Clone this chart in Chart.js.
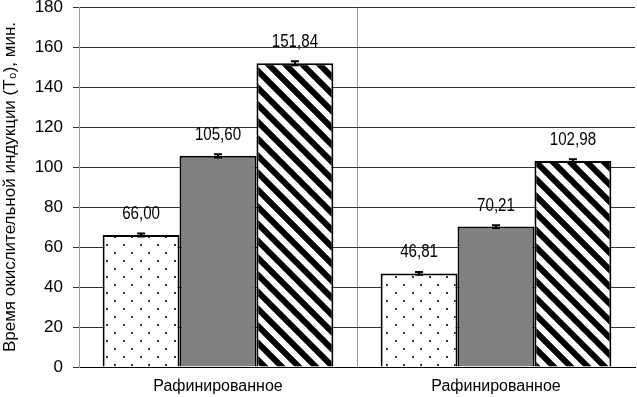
<!DOCTYPE html>
<html>
<head>
<meta charset="utf-8">
<script src="https://cdn.jsdelivr.net/npm/chart.js@4.4.0/dist/chart.umd.min.js"></script>
<style>
  html, body { margin: 0; padding: 0; background: #fff; }
  #wrap { width: 637px; height: 397px; }
</style>
</head>
<body>
<div id="wrap"><canvas id="myChart"></canvas></div>
<script>
// данные графика
const categories = ['Рафинированное', 'Рафинированное'];
const seriesDots = [66.00, 46.81];
const seriesGray = [105.60, 70.21];
const seriesStripes = [151.84, 102.98];
const errDots = [0.8, 0.7];
const errGray = [0.8, 0.7];
const errStripes = [1.0, 0.9];
const yTicks = [0, 20, 40, 60, 80, 100, 120, 140, 160, 180];

const font = "'Liberation Sans', Arial, sans-serif";

// узоры заливки
function dotPattern() {
  const c = document.createElement('canvas');
  c.width = 17; c.height = 16;
  const g = c.getContext('2d');
  g.fillStyle = '#fff';
  g.fillRect(0, 0, 17, 16);
  g.fillStyle = '#333';
  g.fillRect(4, 4, 2, 2);
  g.fillRect(12, 12, 2, 2);
  return g.createPattern(c, 'repeat');
}

function stripePattern() {
  const s = 17;
  const c = document.createElement('canvas');
  c.width = s; c.height = s;
  const g = c.getContext('2d');
  g.fillStyle = '#fff';
  g.fillRect(0, 0, s, s);
  g.strokeStyle = '#000';
  g.lineWidth = 6;
  g.beginPath();
  g.moveTo(-s, 0); g.lineTo(s, 2 * s);
  g.moveTo(0, 0); g.lineTo(s, s);
  g.moveTo(0, -s); g.lineTo(2 * s, s);
  g.stroke();
  return g.createPattern(c, 'repeat');
}

// планки погрешностей и подписи значений
const barExtras = {
  id: 'barExtras',
  afterDatasetsDraw(chart) {
    const g = chart.ctx;
    const y = chart.scales.y;
    chart.data.datasets.forEach((ds, i) => {
      const meta = chart.getDatasetMeta(i);
      meta.data.forEach((bar, j) => {
        const v = ds.data[j];
        const e = ds.errors[j];
        const top = y.getPixelForValue(v + e);
        const bot = y.getPixelForValue(v - e);
        g.save();
        g.strokeStyle = '#000';
        g.lineWidth = 2;
        g.beginPath();
        g.moveTo(bar.x, top); g.lineTo(bar.x, bot);
        g.moveTo(bar.x - 4, top); g.lineTo(bar.x + 4, top);
        g.moveTo(bar.x - 4, bot); g.lineTo(bar.x + 4, bot);
        g.stroke();
        // узкий шрифт как в оригинале
        g.translate(bar.x, y.getPixelForValue(v) - 21);
        g.scale(0.84, 1);
        g.fillStyle = '#000';
        g.font = '18px ' + font;
        g.textAlign = 'center';
        g.textBaseline = 'middle';
        g.fillText(v.toFixed(2).replace('.', ','), 0, 0);
        g.restore();
      });
    });
  }
};

const ctx = document.getElementById('myChart');

new Chart(ctx, {
  type: 'bar',
  data: {
    labels: categories,
    datasets: [{
      data: seriesDots,
      errors: errDots,
      backgroundColor: dotPattern(),
      borderColor: '#000',
      borderWidth: 2
    }, {
      data: seriesGray,
      errors: errGray,
      backgroundColor: '#808080',
      borderColor: '#000',
      borderWidth: 2
    }, {
      data: seriesStripes,
      errors: errStripes,
      backgroundColor: stripePattern(),
      borderColor: '#000',
      borderWidth: 2
    }]
  },
  options: {
    responsive: true,
    maintainAspectRatio: false,
    animation: false,
    layout: { padding: { top: 7, right: 2, bottom: 0, left: 0 } },
    plugins: {
      legend: { display: false },
      tooltip: { enabled: false }
    },
    datasets: {
      bar: { categoryPercentage: 0.83, barPercentage: 1.0 }
    },
    scales: {
      x: {
        afterFit: s => { s.height = 30; },
        grid: {
          offset: true,
          drawTicks: false,
          color: c => c.index === 1 ? '#999' : 'rgba(0,0,0,0)',
          lineWidth: 1
        },
        border: { display: true, color: '#000', width: 1 },
        ticks: {
          color: '#000',
          padding: 10,
          font: { family: font, size: 16 }
        }
      },
      y: {
        min: 0,
        max: 180,
        afterBuildTicks: s => { s.ticks = yTicks.map(v => ({ value: v })); },
        afterFit: s => { s.paddingTop = 0; s.paddingBottom = 0; s.width = 79; },
        grid: {
          color: '#333',
          lineWidth: 1,
          tickLength: 6
        },
        border: { display: true, color: '#999', width: 1 },
        ticks: {
          color: '#000',
          padding: 10,
          font: { family: font, size: 17 }
        },
        title: {
          display: true,
          text: 'Время окислительной индукции (T₀), мин.',
          color: '#000',
          padding: { top: 0, bottom: 4 },
          font: { family: font, size: 17 }
        }
      }
    }
  },
  plugins: [barExtras]
});
</script>
</body>
</html>
